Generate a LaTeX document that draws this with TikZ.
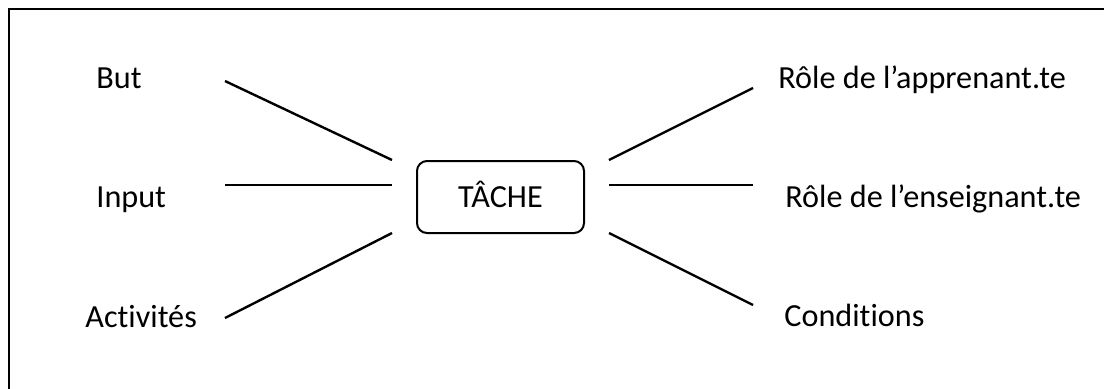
\documentclass[tikz,border=0pt]{standalone}
\usepackage{fontspec}
\setmainfont[Ligatures=NoCommon]{Carlito}
\begin{document}
\begin{tikzpicture}[x=0.5pt,y=-0.5pt,
  lbl/.style={anchor=base west,inner sep=0pt,font=\fontsize{16.1}{19}\selectfont},
  conn/.style={line width=1.2pt},
  frame/.style={line width=1pt},
  taskbox/.style={draw,line width=1pt,rounded corners=5pt,minimum width=83.5pt,minimum height=36pt,
    inner sep=0pt,text height=10.4pt,text depth=0pt,font=\fontsize{16.1}{19}\selectfont}]
\useasboundingbox (0,0) rectangle (1104,388);
% frame (only the left and top edges fall inside the picture)
\coordinate (fbl) at (9,395);
\coordinate (ftl) at (9,9);
\coordinate (ftr) at (1110,9);
\draw[frame] (fbl) -- (ftl) -- (ftr);
% central node
\node[taskbox] (tache) at (500.5,197) {TÂCHE};
% labels
\node[lbl] (but) at (96,88) {But};
\node[lbl] (input) at (96,207) {Input};
\node[lbl] (activ) at (85,327) {Activités};
\node[lbl] (rapp) at (778,88) {Rôle de l’apprenant.te};
\node[lbl] (rens) at (785,207) {Rôle de l’enseignant.te};
\node[lbl] (cond) at (784,326) {Conditions};
% connector end points
\coordinate (l1a) at (225,81);  \coordinate (l1b) at (392,160);
\coordinate (l2a) at (225,185); \coordinate (l2b) at (392,185);
\coordinate (l3a) at (225,318); \coordinate (l3b) at (392,233);
\coordinate (r1a) at (609,160); \coordinate (r1b) at (753,88);
\coordinate (r2a) at (609,185); \coordinate (r2b) at (753,185);
\coordinate (r3a) at (609,233); \coordinate (r3b) at (753,305);
\draw[conn] (l1a) -- (l1b);
\draw[conn] (l2a) -- (l2b);
\draw[conn] (l3a) -- (l3b);
\draw[conn] (r1a) -- (r1b);
\draw[conn] (r2a) -- (r2b);
\draw[conn] (r3a) -- (r3b);
\end{tikzpicture}
\end{document}
